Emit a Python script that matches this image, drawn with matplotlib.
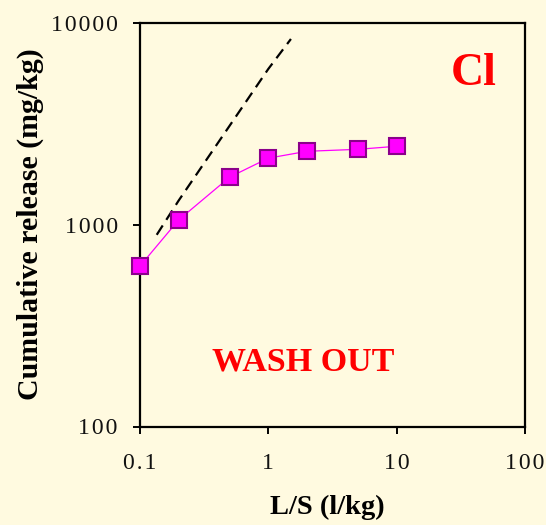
import matplotlib
matplotlib.use("Agg")
import matplotlib.pyplot as plt

# Measured cumulative chloride release
ls_ratio = [0.1, 0.2, 0.5, 1, 2, 5, 10]
cum_release = [625, 1058, 1726, 2143, 2318, 2371, 2455]

# Total-availability reference curve (dashed)
ref_ls = [0.135, 0.2, 1.0, 1.5]
ref_release = [893, 1320, 5940, 8360]

x_ticks = [0.1, 1, 10, 100]
x_tick_labels = ["0.1", "1", "10", "100"]
y_ticks = [100, 1000, 10000]
y_tick_labels = ["100", "1000", "10000"]

bg = "#FFFAE0"
serif = ["Liberation Serif", "DejaVu Serif"]


def spaced(s):
    """Open up the digits a little, like the wide tick lettering."""
    return "\u200a".join(s)


fig = plt.figure(figsize=(5.46, 5.25), dpi=100, facecolor=bg)
ax = fig.add_axes([140 / 546, 1 - 426.5 / 525, 385 / 546, 403.2 / 525])
ax.set_facecolor(bg)
ax.set_xscale("log")
ax.set_yscale("log")
ax.set_xlim(0.1, 100)
ax.set_ylim(100, 10000)

ax.plot(ref_ls, ref_release, color="black", lw=1.6, dashes=(5, 3), zorder=2)
ax.plot(ls_ratio, cum_release, color="#FF00FF", lw=0.9, marker="s",
        markersize=11, markerfacecolor="#FF00FF", markeredgecolor="#8B008B",
        markeredgewidth=1.5, clip_on=False, zorder=3)

ax.minorticks_off()
ax.set_xticks(x_ticks)
ax.set_xticklabels([spaced(t) for t in x_tick_labels], family=serif, fontsize=17)
ax.set_yticks(y_ticks)
ax.set_yticklabels([spaced(t) for t in y_tick_labels], family=serif, fontsize=17)
ax.tick_params(axis="both", which="major", direction="out", length=5,
               width=1.4, color="black", labelcolor="#111111")
ax.tick_params(axis="x", pad=14)
ax.tick_params(axis="y", pad=11)

for sp in ax.spines.values():
    sp.set_linewidth(1.6)
    sp.set_color("black")

ax.set_ylabel("Cumulative release (mg/kg)", family=serif, fontsize=21.5,
              fontweight="bold", va="center")
ax.yaxis.set_label_coords(-0.286, 0.502)
ax.set_xlabel("L/S (l/kg)", family=serif, fontsize=20.5, fontweight="bold",
              va="center")
ax.xaxis.set_label_coords(0.486, -0.2)

fig.text(474 / 546, 1 - 85 / 525, "Cl", family=serif, fontsize=33,
         fontweight="bold", color="red", ha="center", va="baseline")
fig.text(303.5 / 546, 1 - 362 / 525, "WASH OUT", family=serif, fontsize=24.5,
         fontweight="bold", color="red", ha="center", va="center")

fig.savefig("out.png", dpi=100, facecolor=bg)
